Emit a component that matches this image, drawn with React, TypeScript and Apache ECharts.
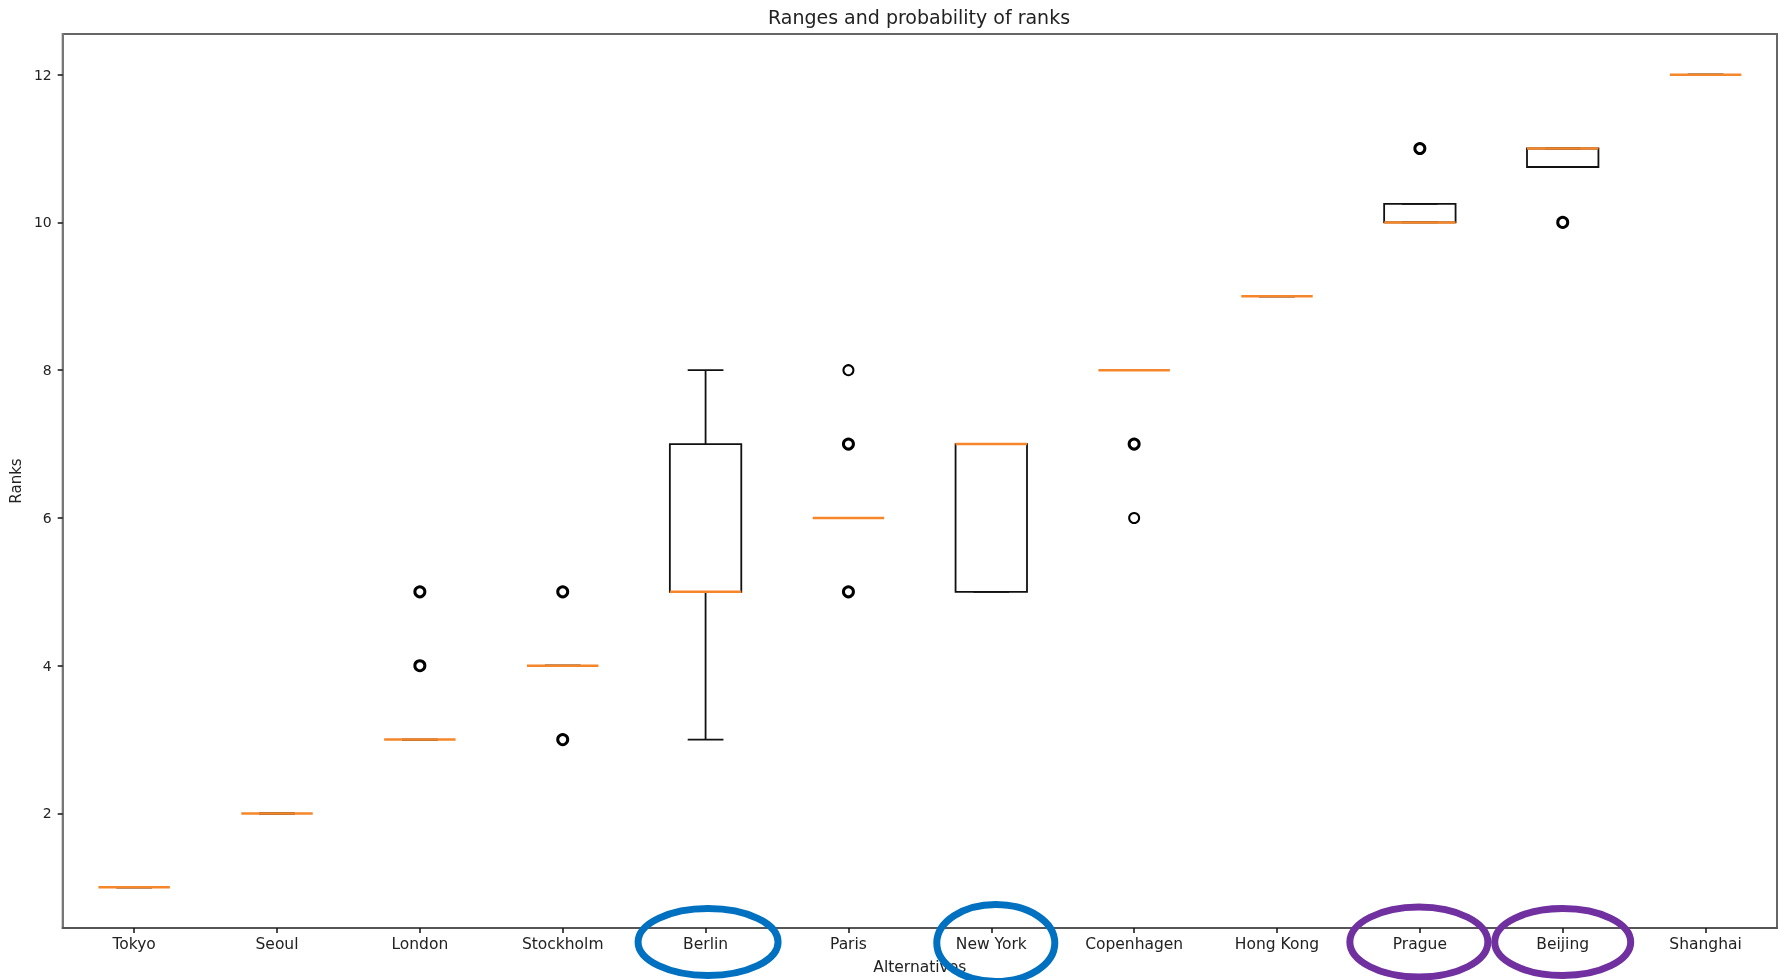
import React, { useEffect, useRef } from "react";
import * as echarts from "echarts";

const categories = ["Tokyo", "Seoul", "London", "Stockholm", "Berlin", "Paris", "New York", "Copenhagen", "Hong Kong", "Prague", "Beijing", "Shanghai"];
const whiskerLow = [1, 2, 3, 4, 3, 6, 5, 8, 9, 10, 10.75, 12];
const quartile1 = [1, 2, 3, 4, 5, 6, 5, 8, 9, 10, 10.75, 12];
const medians = [1, 2, 3, 4, 5, 6, 7, 8, 9, 10, 11, 12];
const quartile3 = [1, 2, 3, 4, 7, 6, 7, 8, 9, 10.25, 11, 12];
const whiskerHigh = [1, 2, 3, 4, 8, 6, 7, 8, 9, 10.25, 11, 12];

const outlierCity = ["London", "London", "Stockholm", "Stockholm", "Paris", "Paris", "Paris", "Copenhagen", "Copenhagen", "Prague", "Beijing"];
const outlierRank = [4, 5, 3, 5, 5, 7, 8, 6, 7, 11, 10];
const outlierRepeated = [true, true, true, true, true, true, false, false, true, true, true];

const yTicks = [2, 4, 6, 8, 10, 12];

const highlightCities = ["Berlin", "New York", "Prague", "Beijing"];
const highlightColors = ["#0070c0", "#0070c0", "#7030a0", "#7030a0"];

const FONT = "DejaVu Sans";

export default function App() {
  const ref = useRef<HTMLDivElement>(null);

  useEffect(() => {
    if (!ref.current) return;
    const chart = echarts.init(ref.current, undefined, { renderer: "svg" });

    const boxData = categories.map((_, i) => [i, whiskerLow[i], quartile1[i], medians[i], quartile3[i], whiskerHigh[i]]);

    const outlierData = outlierCity.map((c, i) => ({
      value: [c, outlierRank[i]],
      itemStyle: { borderWidth: outlierRepeated[i] ? 3 : 2 },
    }));

    chart.setOption({
      animation: false,
      textStyle: { fontFamily: FONT },
      title: {
        text: "Ranges and probability of ranks",
        left: 919,
        textAlign: "center",
        top: 7,
        padding: 0,
        textStyle: { fontSize: 19, fontWeight: "normal", color: "#222", fontFamily: FONT },
      },
      grid: {
        left: 62,
        right: 4,
        top: 34,
        bottom: 49,
        show: true,
        borderColor: "#666",
        borderWidth: 2,
        backgroundColor: "transparent",
      },
      xAxis: {
        type: "category",
        data: categories,
        boundaryGap: true,
        name: "Alternatives",
        nameLocation: "middle",
        nameGap: 31,
        nameTextStyle: { fontSize: 15.5, color: "#222", fontFamily: FONT },
        axisLine: { show: true, lineStyle: { color: "#555", width: 2 } },
        axisTick: { show: true, alignWithLabel: true, length: 5, lineStyle: { color: "#111", width: 1.5 } },
        axisLabel: { fontSize: 15.5, color: "#222", margin: 8, fontFamily: FONT },
        splitLine: { show: false },
      },
      yAxis: {
        type: "value",
        min: 0.45,
        max: 12.55,
        name: "Ranks",
        nameLocation: "middle",
        nameGap: 38,
        nameRotate: 90,
        nameTextStyle: { fontSize: 15, color: "#222", fontFamily: FONT },
        axisLine: { show: true, lineStyle: { color: "#777", width: 2 } },
        axisTick: { show: true, length: 5, customValues: yTicks, lineStyle: { color: "#111", width: 1.5 } },
        axisLabel: { fontSize: 14, color: "#222", margin: 11, customValues: yTicks, fontFamily: FONT },
        splitLine: { show: false },
      },
      series: [
        {
          type: "custom",
          encode: { x: 0, y: [1, 2, 3, 4, 5] },
          data: boxData,
          z: 2,
          renderItem: (params: any, api: any) => {
            const idx = api.value(0);
            const lo = api.coord([idx, api.value(1)]);
            const q1 = api.coord([idx, api.value(2)]);
            const med = api.coord([idx, api.value(3)]);
            const q3 = api.coord([idx, api.value(4)]);
            const hi = api.coord([idx, api.value(5)]);
            const band = api.size([1, 0])[0];
            const hw = band * 0.25;
            const cw = band * 0.125;
            const x = med[0];
            const black = { stroke: "#111", lineWidth: 1.8, fill: null };
            const children: any[] = [];
            if (lo[1] !== q1[1]) children.push({ type: "line", shape: { x1: x, y1: q1[1], x2: x, y2: lo[1] }, style: black });
            if (hi[1] !== q3[1]) children.push({ type: "line", shape: { x1: x, y1: q3[1], x2: x, y2: hi[1] }, style: black });
            children.push({ type: "line", shape: { x1: x - cw, y1: lo[1], x2: x + cw, y2: lo[1] }, style: black });
            children.push({ type: "line", shape: { x1: x - cw, y1: hi[1], x2: x + cw, y2: hi[1] }, style: black });
            if (q1[1] !== q3[1]) {
              children.push({
                type: "rect",
                shape: { x: x - hw, y: q3[1], width: 2 * hw, height: q1[1] - q3[1] },
                style: { stroke: "#111", lineWidth: 1.8, fill: "none" },
              });
            }
            children.push({
              type: "line",
              shape: { x1: x - hw, y1: med[1], x2: x + hw, y2: med[1] },
              style: { stroke: "#f5862a", lineWidth: 2.5 },
            });
            return { type: "group", children };
          },
        },
        {
          type: "scatter",
          data: outlierData,
          symbol: "circle",
          symbolSize: 10,
          z: 3,
          itemStyle: { color: "#fff", borderColor: "#000", borderWidth: 3, opacity: 1 },
        },
      ],
    });

    const ellipseSpec = [
      { dx: 2.5, cy: 942, rx: 70, ry: 33.5 },
      { dx: 4.5, cy: 943, rx: 59, ry: 38.5 },
      { dx: -1, cy: 942, rx: 69, ry: 35 },
      { dx: 0, cy: 942, rx: 68, ry: 33.5 },
    ];
    const graphics = highlightCities.map((c, i) => {
      const px = chart.convertToPixel({ xAxisIndex: 0 }, c) as number;
      const s = ellipseSpec[i];
      return {
        type: "ellipse",
        z: 100,
        shape: { cx: px + s.dx, cy: s.cy, rx: s.rx, ry: s.ry },
        style: { fill: "none", stroke: highlightColors[i], lineWidth: 7 },
      };
    });
    chart.setOption({ graphic: graphics });

    return () => chart.dispose();
  }, []);

  return <div ref={ref} style={{ position: "fixed", left: 0, top: 0, width: 1781, height: 980 }} />;
}
